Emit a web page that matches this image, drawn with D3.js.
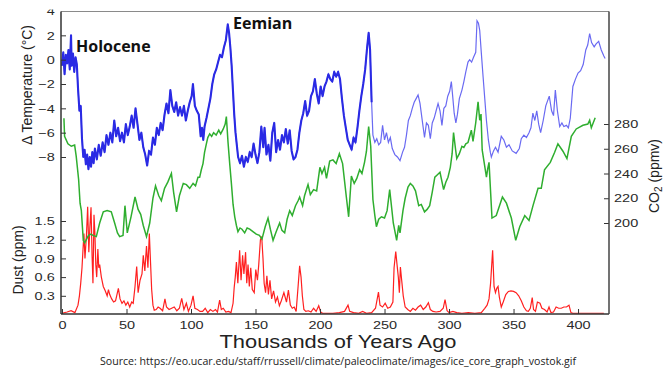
<!DOCTYPE html>
<html>
<head>
<meta charset="utf-8">
<script src="https://cdn.jsdelivr.net/npm/d3@7"></script>
<style>
  body { margin: 0; background: #fff; }
  svg { display: block; }
</style>
</head>
<body>
<div id="chart"></div>
<script>
// ------------------------------------------------------
// Data
// [age in kyr, value]
// ------------------------------------------------------
const temperature = [
  [0, -0.5], [1, 0.6], [2, -1.2], [3, 0.4], [4, -0.3], [5, 0.8], [6, -0.8], [7, 2.0],
  [7.5, -0.5], [8.5, 0.5], [9.5, -1.0], [10.5, 0.2], [11.5, -0.4], [12.5, -2.5], [13.5, -4.2],
  [14.5, -3.8], [15.5, -6.5], [16.5, -8.0], [17.5, -7.4], [18.5, -8.6], [19.5, -7.8], [20.5, -9.0],
  [21.5, -8.0], [22.5, -8.8], [23.5, -7.6], [24.5, -8.5], [25.5, -7.3], [27, -8.2], [28.5, -7.0],
  [30, -7.9], [31.5, -6.8], [33, -7.6], [34.5, -6.2], [36, -7.0], [37.5, -6.0], [39, -6.8],
  [40.5, -5.0], [42, -6.3], [43.5, -5.6], [45, -6.7], [46.5, -6.0], [48, -6.8], [49.5, -5.3],
  [51, -6.2], [52.5, -5.5], [54, -4.6], [55.5, -5.6], [57, -4.0], [58.5, -5.3], [60, -6.6],
  [61.5, -6.0], [63, -7.2], [64.5, -7.8], [66, -8.7], [67.5, -7.5], [69, -7.8], [70.5, -6.4],
  [72, -7.0], [73.5, -5.6], [75, -6.2], [76.5, -5.2], [78, -5.8], [79.5, -4.5], [81, -3.6],
  [82.5, -4.4], [84, -2.5], [85.5, -3.8], [87, -4.3], [88.5, -3.5], [90, -4.6], [91.5, -3.9],
  [93, -4.6], [94.5, -3.8], [96, -5.0], [97.5, -4.2], [99, -3.5], [100.5, -3.0], [101.5, -2.0],
  [103, -3.8], [104.5, -4.2], [106, -4.5], [107.5, -6.3], [108.5, -5.6], [109.5, -6.6],
  [110.5, -5.5], [112, -4.8], [113.5, -4.0], [115, -3.2], [116.5, -2.0], [118, -1.2],
  [119.5, -0.8], [121, -0.2], [122.5, 0.4], [124, 0.2], [125.5, 1.0], [127, 1.6], [128.5, 2.9],
  [129.5, 2.2], [130.5, 1.0], [131.5, -0.5], [132.5, -2.5], [133.5, -4.5], [134.5, -6.0],
  [135.5, -7.0], [136.5, -8.0], [138, -8.5], [139.5, -7.9], [141, -8.8], [142.5, -8.0],
  [144, -8.4], [145.5, -7.6], [147, -8.0], [148.5, -6.9], [150, -7.8], [151.5, -8.5],
  [153, -7.6], [154.5, -5.5], [156, -7.2], [157, -5.6], [158.5, -7.8], [160, -7.0],
  [161.5, -8.3], [163, -6.0], [164.5, -5.2], [166, -7.6], [167.5, -6.6], [169, -7.4],
  [170.5, -6.2], [172, -6.8], [173.5, -5.7], [175, -6.9], [176.5, -5.8], [178, -7.5],
  [179.5, -8.2], [181, -8.0], [182.5, -7.4], [184, -6.0], [185.5, -5.0], [187, -4.4],
  [188.5, -3.4], [190, -4.6], [191.5, -4.2], [193, -3.0], [194.5, -2.6], [196, -1.6],
  [197.5, -2.8], [199, -3.6], [200.5, -2.2], [202, -3.0], [203.5, -2.2], [205, -1.8],
  [206.5, -1.2], [208, -1.6], [209.5, -1.8], [211, -1.0], [212.5, -1.4], [214, -1.0],
  [215.5, -1.6], [217, -3.2], [218.5, -4.6], [220, -5.6], [221.5, -6.6], [223, -7.0],
  [224.5, -7.4], [226, -6.4], [227.5, -6.8], [229, -5.6], [230.5, -4.2], [232, -3.0],
  [233.5, -2.0], [235, -0.8], [236.5, 1.0], [237.7, 2.2], [238.8, 0.8], [240, -3.5],
  [241, -6.2], [242.5, -6.8], [244, -6.5], [245.5, -7.0], [247, -6.8], [248.5, -5.4],
  [250, -6.6], [251.5, -6.0], [253, -6.8], [254.5, -6.4], [256, -7.3], [258, -7.8],
  [260, -8.0], [262, -8.3], [264, -7.6], [265.5, -7.2], [267, -6.2], [268.5, -5.0],
  [270, -4.6], [271.5, -4.0], [273, -3.5], [274.5, -3.2], [276, -2.9], [277.5, -3.6],
  [279, -4.8], [281, -6.4], [282.5, -5.2], [284, -5.4], [285.5, -6.5], [287, -5.2],
  [288.5, -4.8], [290, -4.2], [291.5, -3.6], [293, -4.2], [294.5, -5.4], [296, -4.0],
  [297.5, -3.8], [299, -3.0], [300.5, -2.6], [301.8, -1.8], [303, -3.2], [304, -4.4],
  [305.3, -5.2], [306.5, -4.5], [308, -3.2], [310, -2.5], [311.5, -1.8], [313, -1.0],
  [314.7, -0.2], [316, 0.0], [317.5, -0.2], [319, 0.2], [320.7, 0.6], [321.7, 3.2],
  [322.8, 3.0], [323.8, 2.4], [325, 0.6], [326.4, -1.4], [327.7, -3.2], [329, -5.0],
  [330.5, -6.6], [332, -7.6], [332.8, -8.0], [334.5, -7.5], [336, -7.2], [338, -7.6],
  [340.5, -6.3], [342.5, -6.6], [344.5, -7.2], [346.5, -7.0], [349, -7.5], [352, -7.7],
  [354.5, -7.3], [356, -6.5], [358, -6.2], [360, -6.4], [362, -6.0], [363.5, -5.6],
  [365, -4.4], [366.5, -5.0], [368, -4.2], [369.5, -5.3], [371, -6.0], [373, -5.0],
  [375, -3.8], [377.7, -3.0], [379.5, -4.2], [381, -4.6], [382.4, -2.5], [384, -4.2],
  [385.8, -5.5], [387.5, -5.2], [389, -5.5], [391, -5.4], [392.5, -5.6], [394, -4.8],
  [396, -2.2], [398, -1.6], [400, -1.1], [402, -0.9], [404, -0.4], [406, 0.8], [407.5, 1.2],
  [409, 2.15], [410.5, 1.4], [412.5, 1.05], [414, 1.3], [416, 1.5], [418, 0.8], [420, 0.3],
  [421, 0.1]
];

const co2 = [
  [1.5, 284.6], [2, 270], [4.6, 264], [7.2, 262], [9.8, 263], [11, 254], [12.9, 235],
  [14, 216], [15, 210], [16.5, 186], [17.6, 184], [19, 187], [20.6, 190], [22.5, 191],
  [24, 190], [26.6, 189], [29.2, 200], [32, 209], [35, 210], [38.2, 209], [40.8, 200],
  [43, 192], [44.7, 189], [47.3, 190], [48.8, 214], [50.6, 192], [53.5, 205], [56.6, 221],
  [59, 211], [61, 207], [63, 198], [65.5, 189], [68, 200], [70.5, 220], [72.5, 230],
  [75, 222], [77, 218], [79.5, 228], [82, 233], [84.8, 240], [86.5, 225], [88.8, 209],
  [91, 222], [94, 232], [96.4, 231], [99, 228], [101.6, 232], [103.5, 230], [105.4, 237],
  [106.7, 237], [108, 243], [109.3, 248], [110.5, 257], [111.9, 264], [113, 269],
  [114.5, 272], [116, 270], [117.5, 273], [119.5, 271], [121.5, 275], [123, 272],
  [125, 276], [126.5, 280], [127.4, 286], [128.7, 265], [130, 248], [131.3, 232],
  [132.6, 215], [133.9, 205], [135.2, 198], [136.4, 193], [138, 196], [139.5, 195],
  [141.6, 192], [143.5, 196], [145.5, 195], [148, 193], [150.6, 191], [153, 190],
  [155, 187], [157.5, 197], [159.7, 204], [161.5, 195], [163.6, 186], [166, 193],
  [168.7, 200], [170.5, 194], [172.6, 192], [174.5, 203], [176.5, 210], [178.5, 206],
  [181, 214], [183, 218], [184.2, 221], [186.5, 214], [188, 222], [190.7, 231],
  [192.5, 223], [195, 227], [197.4, 226], [199.9, 245], [201.5, 240], [203.5, 245],
  [205, 236], [207.5, 250], [210, 251], [212.5, 248], [215, 256], [217.5, 248],
  [220.4, 221], [222.2, 205], [224.3, 238], [226.5, 232], [228.5, 236], [230.7, 243],
  [232.5, 240], [234.5, 249], [236, 258], [237.7, 278], [239.3, 262], [241, 219],
  [242.5, 206], [243.7, 197], [245.5, 203], [247.6, 205], [250, 204], [252, 210],
  [254, 227], [256.8, 200], [259.4, 186], [261, 198], [262, 192], [264.3, 210],
  [266, 220], [268.2, 229], [270, 232], [272, 230], [274, 226], [276.5, 214],
  [278.5, 215], [281, 209], [283, 211], [285, 214], [287, 225], [289, 237], [291, 239],
  [293, 241], [295.8, 227], [297.5, 233], [299.2, 237], [301, 245], [302.4, 256],
  [303.5, 273], [305, 260], [306, 252], [308, 256], [310, 262], [311.5, 261], [313, 264],
  [314.7, 265], [317.3, 275], [318.6, 266], [320.7, 281], [322.5, 298], [323.8, 283],
  [324.8, 288], [325.7, 259], [329, 237], [330, 244], [331, 249], [333.3, 204],
  [336.6, 206], [341.4, 221], [344.5, 216], [348.3, 204], [351.7, 186], [354.8, 197],
  [358.7, 206], [362, 202], [365.1, 214], [369, 228], [371.5, 228], [374, 243],
  [378.5, 249], [381.8, 257], [384.4, 264], [388.3, 258], [391.4, 252], [394.8, 270],
  [398.6, 276], [403.8, 279], [407.6, 280], [409, 283], [410.3, 277], [413.3, 285]
];

const dust = [
  [0, 0.02], [4, 0.04], [7, 0.06], [10, 0.03], [12.4, 0.15], [13.5, 0.3], [14.5, 0.5],
  [15.5, 0.75], [16.3, 1.05], [17, 1.3], [17.8, 0.9], [18.9, 1.25], [19.9, 1.73],
  [20.8, 1.0], [21.6, 1.4], [22.5, 1.72], [23.3, 0.95], [24, 0.5], [24.8, 1.6],
  [25.5, 1.3], [26.2, 0.8], [26.9, 0.6], [27.8, 1.05], [28.5, 0.75], [29.2, 0.8],
  [30.5, 0.6], [32, 0.45], [33.5, 0.38], [35, 0.3], [36, 0.4], [37, 0.32], [38.5, 0.25],
  [40, 0.2], [41.5, 0.22], [43.7, 0.42], [45, 0.25], [46.5, 0.18], [48, 0.22], [49.5, 0.15],
  [51, 0.2], [52.5, 0.12], [54, 0.2], [55.2, 0.18], [56.6, 0.45], [57.9, 0.77], [59, 0.35],
  [60.5, 0.55], [62, 0.65], [63, 0.95], [64.2, 0.7], [65.5, 1.1], [66.6, 0.75], [67.7, 1.3],
  [68.5, 0.9], [69.5, 0.4], [70.5, 0.15], [71.5, 0.07], [73, 0.08], [74.5, 0.12], [76, 0.1],
  [78, 0.06], [79.8, 0.25], [81, 0.12], [83, 0.08], [85, 0.1], [87, 0.12], [89, 0.06],
  [91, 0.1], [92.8, 0.26], [94.5, 0.08], [96.4, 0.18], [98, 0.05], [100, 0.15], [101.6, 0.3],
  [103, 0.1], [105, 0.08], [107, 0.05], [109, 0.05], [111, 0.1], [113, 0.03], [115, 0.08],
  [117, 0.05], [119, 0.08], [120.5, 0.04], [122.2, 0.23], [123.5, 0.08], [125, 0.1],
  [127, 0.04], [129, 0.05], [131, 0.03], [132.6, 0.18], [133.5, 0.44], [134.3, 0.6],
  [135.2, 0.84], [136.3, 0.5], [137.7, 1.03], [138.8, 0.55], [140, 0.95], [141, 0.65],
  [142.3, 1.0], [143.2, 0.5], [144.2, 0.8], [145.2, 0.45], [146.3, 0.75], [147.5, 0.4],
  [149, 0.35], [150.2, 0.72], [151.5, 0.55], [152.5, 0.8], [153.8, 1.2], [154.8, 1.25],
  [155.8, 0.9], [156.7, 0.5], [157.8, 0.35], [158.8, 0.62], [160, 0.32], [161.2, 0.55],
  [162.5, 0.25], [164, 0.38], [165.5, 0.2], [167, 0.28], [168.5, 0.14], [170, 0.22],
  [172, 0.35], [174, 0.2], [175.5, 0.39], [177, 0.15], [178.5, 0.1], [180, 0.12],
  [181.5, 0.05], [183, 0.45], [184.2, 0.78], [185.3, 0.6], [186.3, 0.3], [187.5, 0.08],
  [189, 0.05], [191, 0.06], [193, 0.04], [195, 0.1], [197, 0.05], [199, 0.14], [200.5, 0.04],
  [202, 0.02], [205, 0.02], [210, 0.02], [215, 0.03], [219, 0.05], [221.7, 0.15], [223, 0.05],
  [226, 0.03], [230, 0.02], [233, 0.05], [236, 0.02], [240, 0.03], [243, 0.1], [245.3, 0.36],
  [246.5, 0.15], [248.5, 0.12], [250.5, 0.18], [252.5, 0.1], [254.5, 0.12], [256.5, 0.2],
  [257.4, 0.75], [258.7, 1.01], [259.7, 0.8], [260.7, 0.6], [261.5, 0.35], [262.3, 0.76],
  [263.3, 0.55], [264.5, 0.3], [266, 0.12], [268, 0.08], [270, 0.05], [272, 0.1], [274, 0.07],
  [276, 0.12], [278, 0.15], [280, 0.08], [282, 0.12], [284, 0.19], [285.5, 0.08], [287.5, 0.05],
  [290, 0.04], [293, 0.05], [295.5, 0.1], [296.9, 0.24], [298.5, 0.06], [300, 0.03],
  [303, 0.05], [306, 0.03], [310, 0.02], [315, 0.03], [320, 0.02], [325, 0.03], [327.7, 0.1],
  [329.5, 0.15], [331, 0.25], [332.2, 0.5], [333.8, 1.03], [334.9, 0.45], [336, 0.35],
  [337, 0.42], [338, 0.45], [339, 0.28], [340.5, 0.12], [342, 0.2], [344, 0.32], [346, 0.37],
  [348, 0.38], [350, 0.37], [352, 0.35], [354, 0.3], [356, 0.22], [358, 0.12], [360, 0.06],
  [361.5, 0.05], [363, 0.1], [364.5, 0.27], [365.5, 0.08], [367, 0.05], [368.5, 0.2],
  [370.5, 0.18], [372, 0.1], [374, 0.08], [376, 0.04], [377.5, 0.12], [379, 0.03],
  [381, 0.04], [383, 0.12], [385, 0.1], [387, 0.1], [389, 0.12], [391, 0.12], [393, 0.15],
  [394.5, 0.03], [396, 0.02], [400, 0.02], [405, 0.02], [410, 0.02], [415, 0.02], [420, 0.02]
];

const ageTicks = [0, 50, 100, 150, 200, 250, 300, 350, 400];
const tempTicks = [4, 2, 0, -2, -4, -6, -8];
const dustTicks = [0.3, 0.6, 0.9, 1.2, 1.5];
const co2Ticks = [200, 220, 240, 260, 280];

// ------------------------------------------------------
// Layout
// ------------------------------------------------------
const width = 665;
const height = 369;
const plotLeft = 61, plotRight = 609, plotTop = 11.5, plotBottom = 314;

const svg = d3.select("#chart").append("svg")
  .attr("width", width)
  .attr("height", height)
  .style("font-family", "'Liberation Sans', Arial, sans-serif");

const x = d3.scaleLinear().domain([0, 424]).range([plotLeft + 1, plotRight]);
const yTemp = d3.scaleLinear().domain([-8, 4]).range([157, 11]);
const yDust = d3.scaleLinear().domain([0, 1.5]).range([314.5, 221]);
const yCo2 = d3.scaleLinear().domain([200, 280]).range([223, 124]);

svg.append("clipPath").attr("id", "plot")
  .append("rect")
  .attr("x", plotLeft).attr("y", plotTop)
  .attr("width", plotRight - plotLeft).attr("height", plotBottom - plotTop);

svg.append("clipPath").attr("id", "labels")
  .append("rect")
  .attr("x", -100).attr("y", 9.5)
  .attr("width", width + 100).attr("height", height);

// =====================
// Lines
// =====================
const gLines = svg.append("g").attr("clip-path", "url(#plot)");

const lineTemp = d3.line().x(d => x(d[0])).y(d => yTemp(d[1]));
const lineCo2 = d3.line().x(d => x(d[0])).y(d => yCo2(d[1]));
const lineDust = d3.line().x(d => x(d[0])).y(d => yDust(d[1]));

gLines.append("path")
  .datum(dust)
  .attr("fill", "none")
  .attr("stroke", "#ff2020")
  .attr("stroke-width", 1.2)
  .attr("d", lineDust);

gLines.append("path")
  .datum(co2)
  .attr("fill", "none")
  .attr("stroke", "#2fae2f")
  .attr("stroke-width", 1.5)
  .attr("d", lineCo2);

gLines.append("path")
  .datum(temperature)
  .attr("fill", "none")
  .attr("stroke", "#6a6af2")
  .attr("stroke-width", 1.2)
  .attr("d", lineTemp);

// the older part of the record is densely sampled and reads as a thick band
gLines.append("path")
  .datum(temperature.filter(d => d[0] <= 240))
  .attr("fill", "none")
  .attr("stroke", "#2a2ae4")
  .attr("stroke-width", 2.1)
  .attr("stroke-linejoin", "round")
  .attr("d", lineTemp);

// =====================
// Axes
// =====================
function styleAxis(g) {
  g.select(".domain").remove();
  g.selectAll(".tick line").attr("stroke", "#333").attr("stroke-width", 1);
  g.selectAll(".tick text")
    .attr("fill", "#2a2a2a")
    .attr("font-size", 11.5)
    .attr("transform", "scale(1.26,1)");
}

svg.append("g")
  .attr("transform", `translate(0,${plotBottom})`)
  .call(d3.axisBottom(x).tickValues(ageTicks).tickSizeInner(-5).tickSizeOuter(0).tickPadding(6.5))
  .call(styleAxis);

svg.append("g")
  .attr("transform", `translate(${plotLeft},0)`)
  .attr("clip-path", "url(#labels)")
  .call(d3.axisLeft(yTemp).tickValues(tempTicks).tickFormat(d3.format("d")).tickSizeInner(-5).tickSizeOuter(0).tickPadding(5))
  .call(styleAxis);

svg.append("g")
  .attr("transform", `translate(${plotLeft},0)`)
  .call(d3.axisLeft(yDust).tickValues(dustTicks).tickFormat(d3.format(".1f")).tickSizeInner(-5).tickSizeOuter(0).tickPadding(5))
  .call(styleAxis);

svg.append("g")
  .attr("transform", `translate(${plotRight},0)`)
  .call(d3.axisRight(yCo2).tickValues(co2Ticks).tickSizeInner(-5).tickSizeOuter(0).tickPadding(4))
  .call(styleAxis);

// frame
svg.append("line")
  .attr("x1", plotLeft).attr("x2", plotRight).attr("y1", plotTop).attr("y2", plotTop)
  .attr("stroke", "#8a8a8a").attr("stroke-width", 1.2);
svg.append("line")
  .attr("x1", plotLeft).attr("x2", plotRight).attr("y1", plotBottom).attr("y2", plotBottom)
  .attr("stroke", "#333").attr("stroke-width", 1.5);
svg.append("line")
  .attr("x1", plotLeft).attr("x2", plotLeft).attr("y1", plotTop).attr("y2", plotBottom)
  .attr("stroke", "#333").attr("stroke-width", 1.5);
svg.append("line")
  .attr("x1", plotRight).attr("x2", plotRight).attr("y1", plotTop).attr("y2", plotBottom)
  .attr("stroke", "#444").attr("stroke-width", 1.5);

// =====================
// Labels
// =====================
svg.append("text")
  .attr("transform", "translate(32,85) rotate(-90)")
  .attr("text-anchor", "middle")
  .attr("font-size", 14)
  .attr("fill", "#222")
  .text("\u0394 Temperature (\u00B0C)");

svg.append("text")
  .attr("transform", "translate(23,260) rotate(-90)")
  .attr("text-anchor", "middle")
  .attr("font-size", 14)
  .attr("fill", "#222")
  .text("Dust (ppm)");

const co2Label = svg.append("text")
  .attr("transform", "translate(659,176) rotate(-90)")
  .attr("text-anchor", "middle")
  .attr("font-size", 14)
  .attr("fill", "#222");
co2Label.append("tspan").text("CO");
co2Label.append("tspan").attr("font-size", 10).attr("dy", 3).text("2");
co2Label.append("tspan").attr("dy", -3).text(" (ppmv)");

svg.append("text")
  .attr("transform", "translate(338,347.5) scale(1.25,1)")
  .attr("text-anchor", "middle")
  .attr("font-size", 17.5)
  .attr("fill", "#222")
  .text("Thousands of Years Ago");

svg.append("text")
  .attr("x", 76).attr("y", 52)
  .attr("font-family", "'Open Sans', sans-serif")
  .attr("font-weight", "bold")
  .attr("font-size", 16)
  .attr("fill", "#111")
  .text("Holocene");

svg.append("text")
  .attr("x", 233).attr("y", 29)
  .attr("font-family", "'Open Sans', sans-serif")
  .attr("font-weight", "bold")
  .attr("font-size", 16)
  .attr("fill", "#111")
  .text("Eemian");

svg.append("text")
  .attr("x", 338).attr("y", 365)
  .attr("text-anchor", "middle")
  .attr("font-family", "'Open Sans', sans-serif")
  .attr("font-size", 10.5)
  .attr("textLength", 476)
  .attr("lengthAdjust", "spacingAndGlyphs")
  .attr("fill", "#222")
  .text("Source: https://eo.ucar.edu/staff/rrussell/climate/paleoclimate/images/ice_core_graph_vostok.gif");
</script>
</body>
</html>
